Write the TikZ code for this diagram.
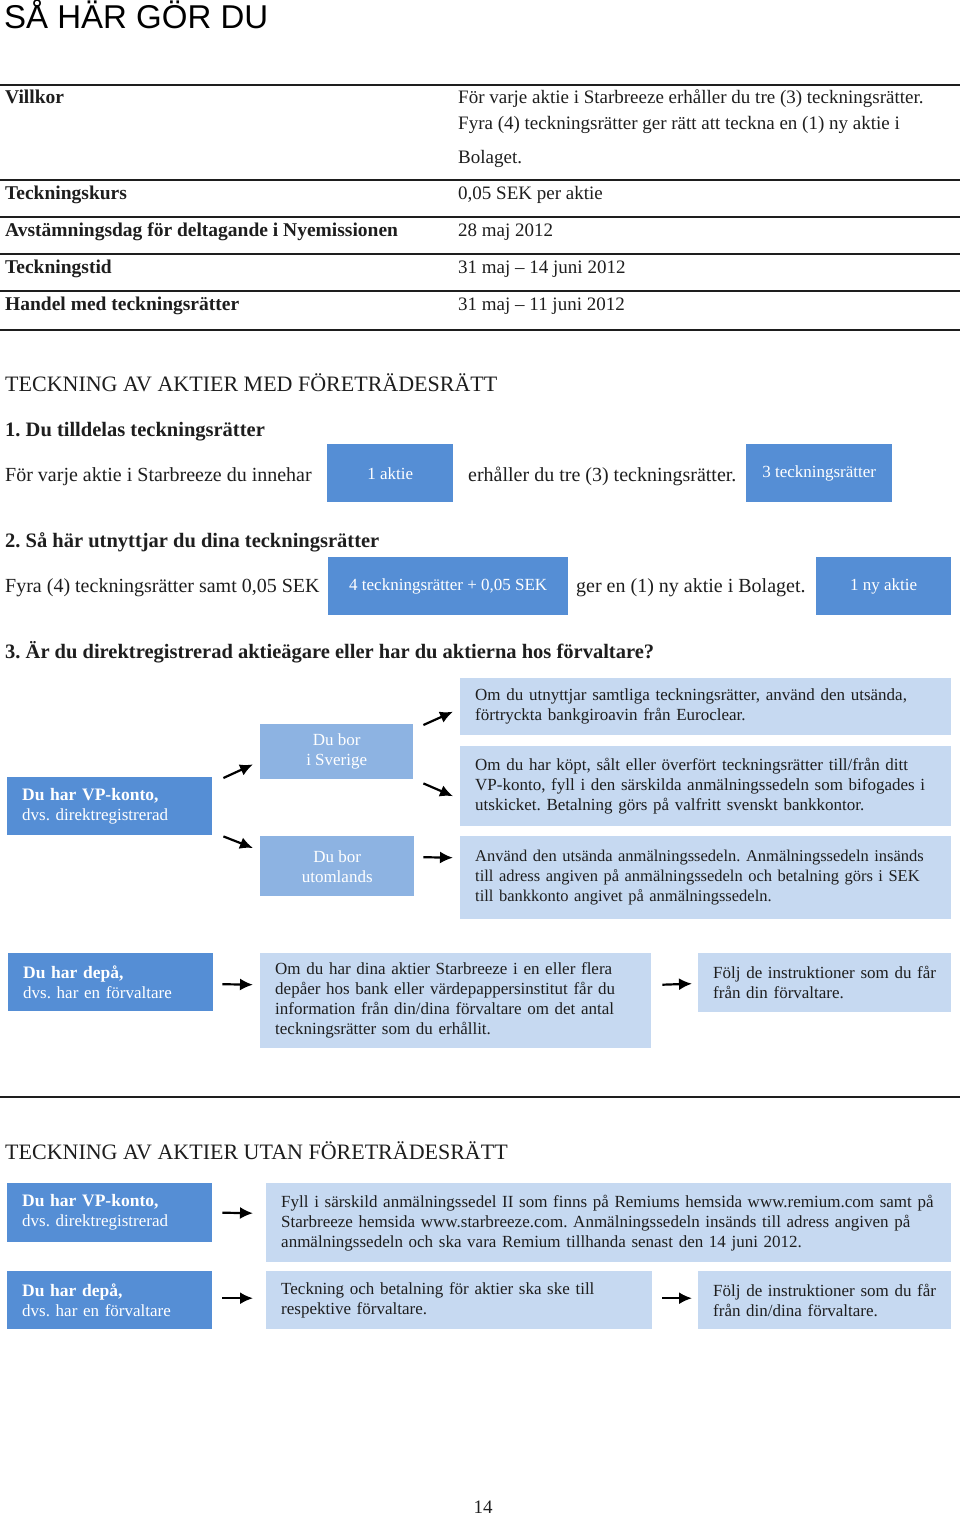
\documentclass[tikz,border=0pt]{standalone}
\usepackage{fontspec}
\setmainfont{Liberation Serif}
\newfontfamily\headfont{Liberation Sans}
\usetikzlibrary{arrows.meta}
\definecolor{darkblue}{RGB}{85,142,213}
\definecolor{midblue}{RGB}{141,179,226}
\definecolor{lightblue}{RGB}{198,217,241}
\definecolor{ink}{RGB}{30,30,30}
\frenchspacing

\begin{document}
\begin{tikzpicture}[x=1pt, y=-1pt,
  txt/.style={anchor=base west, inner sep=0pt, text=ink, font=\fontsize{20}{24}\selectfont},
  lbl/.style={txt, font=\fontsize{19.5}{24}\selectfont\bfseries},
  steplbl/.style={txt, font=\fontsize{20.5}{24}\selectfont\bfseries},
  cell/.style={txt, font=\fontsize{19}{26}\selectfont},
  rule/.style={line width=1.6pt, draw=ink},
  pill/.style={anchor=north west, fill=darkblue, text=white, inner sep=0pt, font=\fontsize{17}{20}\selectfont},
  flowbox/.style={anchor=north west, inner xsep=15pt, inner ysep=0pt, align=left, font=\fontsize{17}{20}\selectfont},
  darkbox/.style={flowbox, fill=darkblue, text=white},
  lightbox/.style={flowbox, fill=lightblue, text=ink},
  midbox/.style={anchor=north west, fill=midblue, text=white, inner sep=0pt, align=center, font=\fontsize{17}{20}\selectfont},
  arr/.style={-{Latex[length=13pt,width=12pt]}, line width=2.2pt, draw=black}]
\useasboundingbox (0,0) rectangle (960,1516);
\fill[white] (0,0) rectangle (960,1516);

\node[anchor=base west, inner sep=0pt, font=\headfont\fontsize{33}{36}\selectfont] (title) at (4,28) {SÅ HÄR GÖR DU};

\draw[rule] (0,85) -- (960,85);
\draw[rule] (0,180) -- (960,180);
\draw[rule] (0,217) -- (960,217);
\draw[rule] (0,254) -- (960,254);
\draw[rule] (0,291) -- (960,291);
\draw[rule] (0,330) -- (960,330);

\node[lbl] (villkor) at (5,103) {Villkor};
\node[cell, align=left] (villkorText) at (458,163) {För varje aktie i Starbreeze erhåller du tre (3) teckningsrätter.\\Fyra (4) teckningsrätter ger rätt att teckna en (1) ny aktie i\\[8pt]Bolaget.};
\node[lbl] (kurs) at (5,199) {Teckningskurs};
\node[cell] (kursText) at (458,199) {0,05 SEK per aktie};
\node[lbl] (avst) at (5,236) {Avstämningsdag för deltagande i Nyemissionen};
\node[cell] (avstText) at (458,236) {28 maj 2012};
\node[lbl] (tid) at (5,273) {Teckningstid};
\node[cell] (tidText) at (458,273) {31 maj -- 14 juni 2012};
\node[lbl] (handel) at (5,310) {Handel med teckningsrätter};
\node[cell] (handelText) at (458,310) {31 maj -- 11 juni 2012};

\node[txt, font=\fontsize{22}{26}\selectfont] (medHead) at (5,391) {TECKNING AV AKTIER MED FÖRETRÄDESRÄTT};

\node[steplbl] (step1) at (5,436) {1. Du tilldelas teckningsrätter};
\node[txt] (step1a) at (5,481) {För varje aktie i Starbreeze du innehar};
\node[pill, minimum width=126pt, minimum height=58pt] (enAktie) at (327,444) {1 aktie};
\node[txt] (step1b) at (468,481) {erhåller du tre (3) teckningsrätter.};
\node[pill, minimum width=146pt, minimum height=58pt] (treRatter) at (746,444) {3 teckningsrätter};

\node[steplbl] (step2) at (5,547) {2. Så här utnyttjar du dina teckningsrätter};
\node[txt] (step2a) at (5,592) {Fyra (4) teckningsrätter samt 0,05 SEK};
\node[pill, minimum width=240pt, minimum height=58pt] (fyraRatter) at (328,557) {4 teckningsrätter + 0,05 SEK};
\node[txt] (step2b) at (576,592) {ger en (1) ny aktie i Bolaget.};
\node[pill, minimum width=135pt, minimum height=58pt] (nyAktie) at (816,557) {1 ny aktie};

\node[steplbl] (step3) at (5,658) {3. Är du direktregistrerad aktieägare eller har du aktierna hos förvaltare?};

\node[darkbox, text width=175pt, minimum height=58pt] (vpMed) at (7,777) {{\fontsize{17.5}{21}\selectfont\bfseries Du har VP-konto,}\\dvs. direktregistrerad};
\node[midbox, minimum width=153pt, minimum height=55pt] (sverige) at (260,724) {Du bor\\i Sverige};
\node[midbox, minimum width=154pt, minimum height=60pt] (utomlands) at (260,836) {Du bor\\utomlands};
\node[lightbox, text width=461pt, minimum height=57pt] (samtliga) at (460,678) {Om du utnyttjar samtliga teckningsrätter, använd den utsända,\\förtryckta bankgiroavin från Euroclear.};
\node[lightbox, text width=461pt, minimum height=80pt] (kopt) at (460,746) {Om du har köpt, sålt eller överfört teckningsrätter till/från ditt\\VP-konto, fyll i den särskilda anmälningssedeln som bifogades i\\utskicket. Betalning görs på valfritt svenskt bankkontor.};
\node[lightbox, text width=461pt, minimum height=83pt, font=\fontsize{16.5}{20}\selectfont] (utsanda) at (460,836) {Använd den utsända anmälningssedeln. Anmälningssedeln insänds\\till adress angiven på anmälningssedeln och betalning görs i SEK\\till bankkonto angivet på anmälningssedeln.};

\draw[arr] ([xshift=11pt,yshift=-1pt]vpMed.north east) -- ([xshift=-7pt,yshift=15pt]sverige.south west);
\draw[arr] ([xshift=11pt,yshift=-1pt]vpMed.south east) -- ([xshift=-7pt,yshift=-12pt]utomlands.north west);
\draw[arr] ([xshift=10pt,yshift=-1pt]sverige.north east) -- ([xshift=-7pt,yshift=-5pt]samtliga.west);
\draw[arr] ([xshift=10pt,yshift=-4pt]sverige.south east) -- ([xshift=-7pt,yshift=-10pt]kopt.west);
\draw[arr] ([xshift=9pt,yshift=9pt]utomlands.east) -- ([xshift=-7pt,yshift=20pt]utsanda.west);

\node[darkbox, text width=175pt, minimum height=58pt] (depaMed) at (8,953) {{\fontsize{17.5}{21}\selectfont\bfseries Du har depå,}\\dvs. har en förvaltare};
\node[lightbox, text width=361pt, minimum height=95pt] (depaInfo) at (260,953) {Om du har dina aktier Starbreeze i en eller flera\\depåer hos bank eller värdepappersinstitut får du\\information från din/dina förvaltare om det antal\\teckningsrätter som du erhållit.};
\node[lightbox, text width=223pt, minimum height=59pt] (depaFolj) at (698,953) {Följ de instruktioner som du får\\från din förvaltare.};
\draw[arr] ([xshift=9pt,yshift=-2pt]depaMed.east) -- ([xshift=-7pt,yshift=16pt]depaInfo.west);
\draw[arr] ([xshift=11pt,yshift=16pt]depaInfo.east) -- ([xshift=-6pt,yshift=-1pt]depaFolj.west);

\draw[rule] (0,1097) -- (960,1097);
\node[txt, font=\fontsize{22}{26}\selectfont] (utanHead) at (5,1159) {TECKNING AV AKTIER UTAN FÖRETRÄDESRÄTT};

\node[darkbox, text width=175pt, minimum height=59pt] (vpUtan) at (7,1183) {{\fontsize{17.5}{21}\selectfont\bfseries Du har VP-konto,}\\dvs. direktregistrerad};
\node[lightbox, text width=655pt, minimum height=79pt] (vpUtanInfo) at (266,1183) {Fyll i särskild anmälningssedel II som finns på Remiums hemsida www.remium.com samt på\\Starbreeze hemsida www.starbreeze.com. Anmälningssedeln insänds till adress angiven på\\anmälningssedeln och ska vara Remium tillhanda senast den 14 juni 2012.};
\draw[arr] ([xshift=10pt]vpUtan.east) -- ([xshift=-13pt,yshift=9.5pt]vpUtanInfo.west);

\node[darkbox, text width=175pt, minimum height=58pt] (depaUtan) at (7,1271) {{\fontsize{17.5}{21}\selectfont\bfseries Du har depå,}\\dvs. har en förvaltare};
\node[lightbox, text width=356pt, minimum height=58pt] (depaUtanInfo) at (266,1271) {Teckning och betalning för aktier ska ske till\\respektive förvaltare.};
\node[lightbox, text width=223pt, minimum height=58pt] (depaUtanFolj) at (698,1271) {Följ de instruktioner som du får\\från din/dina förvaltare.};
\draw[arr] ([xshift=10pt,yshift=2pt]depaUtan.east) -- ([xshift=-13pt,yshift=2pt]depaUtanInfo.west);
\draw[arr] ([xshift=10pt,yshift=2pt]depaUtanInfo.east) -- ([xshift=-6pt,yshift=2pt]depaUtanFolj.west);

\node[txt, anchor=base, font=\fontsize{19}{22}\selectfont] (sida) at (483,1513) {14};
\end{tikzpicture}
\end{document}
